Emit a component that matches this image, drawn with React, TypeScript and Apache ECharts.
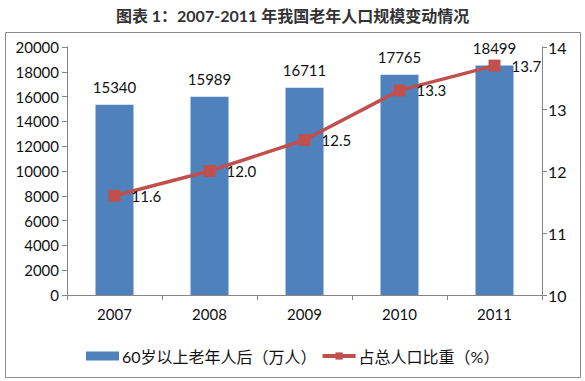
import React, { useEffect, useRef } from "react";
import * as echarts from "echarts";

const title = "图表 1：2007-2011 年我国老年人口规模变动情况";
const years = ["2007", "2008", "2009", "2010", "2011"];
const elderly = [15340, 15989, 16711, 17765, 18499];
const share = [11.6, 12.0, 12.5, 13.3, 13.7];
const barName = "60岁以上老年人后（万人）";
const lineName = "占总人口比重（%）";

const FONT = 'Lato, "Noto Sans CJK SC", sans-serif';

export default function App() {
  const ref = useRef<HTMLDivElement>(null);
  useEffect(() => {
    if (!ref.current) return;
    const chart = echarts.init(ref.current, null, { renderer: "svg" });
    chart.setOption({
      animation: false,
      backgroundColor: "#ffffff",
      textStyle: { fontFamily: FONT },
      title: {
        text: title,
        left: "center",
        top: 2,
        textStyle: { fontSize: 16, fontWeight: "bold", color: "#333", fontFamily: FONT },
      },
      graphic: [
        {
          type: "rect",
          shape: { x: 5.5, y: 32.5, width: 575, height: 345 },
          style: { fill: "none", stroke: "#8c8c8c", lineWidth: 1 },
          silent: true,
        },
      ],
      legend: {
        left: 81,
        top: 343,
        itemWidth: 33,
        itemHeight: 9,
        itemGap: 4,
        textStyle: { fontSize: 16, color: "#111", fontFamily: FONT, padding: [0, 0, 0, -2] },
        data: [
          { name: barName, icon: "rect" },
          { name: lineName, lineStyle: { width: 4 } },
        ],
      },
      grid: { left: 67, right: 43, top: 47, bottom: 86, containLabel: false },
      xAxis: {
        type: "category",
        data: years,
        axisLine: { lineStyle: { color: "#868686" } },
        axisTick: { show: true, alignWithLabel: false, length: 5, lineStyle: { color: "#868686" } },
        axisLabel: { color: "#111", fontSize: 15, margin: 11, fontFamily: FONT },
      },
      yAxis: [
        {
          type: "value",
          min: 0,
          max: 20000,
          interval: 2000,
          axisLine: { show: true, lineStyle: { color: "#868686" } },
          axisTick: { show: true, length: 5, lineStyle: { color: "#868686" } },
          splitLine: { show: false },
          axisLabel: {
            color: "#111",
            fontSize: 15,
            margin: 8,
            fontFamily: FONT,
            formatter: (v: number) => String(v),
          },
        },
        {
          type: "value",
          min: 10,
          max: 14,
          interval: 1,
          position: "right",
          axisLine: { show: true, lineStyle: { color: "#868686" } },
          axisTick: { show: true, length: 5, lineStyle: { color: "#868686" } },
          splitLine: { show: false },
          axisLabel: { color: "#111", fontSize: 16, margin: 6, fontFamily: FONT },
        },
      ],
      series: [
        {
          name: barName,
          type: "bar",
          data: elderly,
          barWidth: 38,
          itemStyle: { color: "#4F81BD" },
          label: {
            show: true,
            position: "top",
            distance: 10,
            color: "#111",
            fontSize: 15,
            fontFamily: FONT,
          },
          z: 1,
        },
        {
          name: lineName,
          type: "line",
          yAxisIndex: 1,
          data: share,
          symbol: "rect",
          symbolSize: 12,
          lineStyle: { color: "#C0504D", width: 3.5 },
          itemStyle: { color: "#C0504D" },
          label: {
            show: true,
            position: "right",
            distance: 11,
            color: "#111",
            fontSize: 15,
            fontFamily: FONT,
            formatter: (p: any) => Number(p.value).toFixed(1),
          },
          z: 3,
        },
      ],
    });
    return () => chart.dispose();
  }, []);
  return <div ref={ref} style={{ width: 585, height: 381, position: "absolute", left: 0, top: 0 }} />;
}
